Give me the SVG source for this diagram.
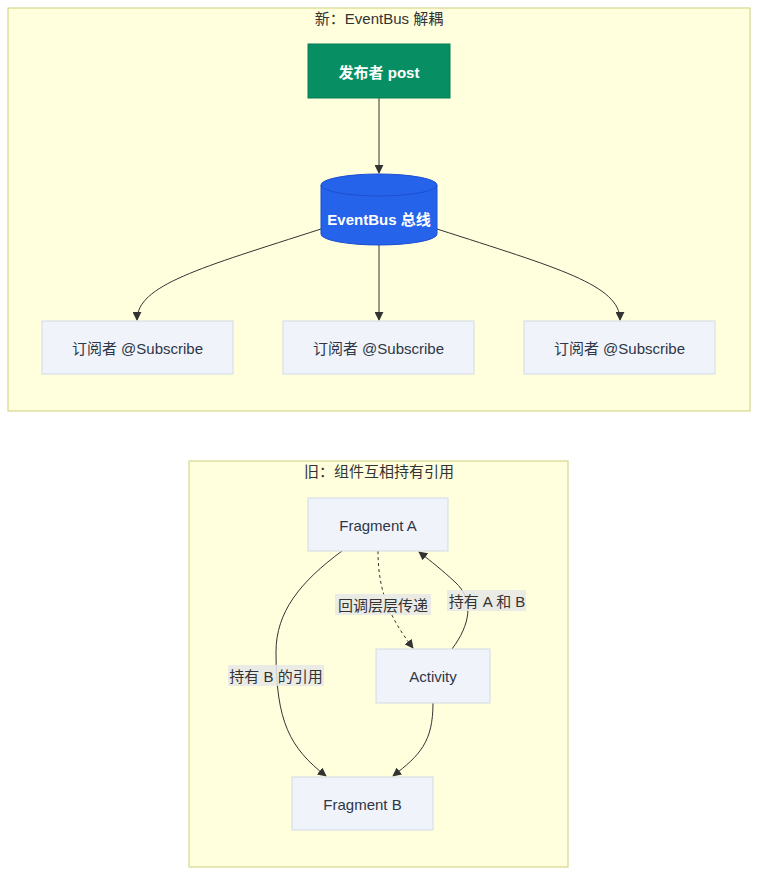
<svg xmlns="http://www.w3.org/2000/svg" width="766" height="886" viewBox="0 0 766 886">
<defs>
<style>
.cluster{fill:#ffffde;stroke:#cfcf7a;stroke-width:1}
.ctitle{font-family:"Liberation Sans","Noto Sans CJK SC",sans-serif;font-size:15px;fill:#333;text-anchor:middle}
.node{fill:#f0f3f9;stroke:#d2dbe8;stroke-width:1}
.ntext{font-family:"Liberation Sans","Noto Sans CJK SC",sans-serif;font-size:15px;fill:#2d3748;text-anchor:middle;dominant-baseline:central}
.wtext{font-family:"Liberation Sans","Noto Sans CJK SC",sans-serif;font-size:15px;fill:#ffffff;font-weight:bold;text-anchor:middle;dominant-baseline:central}
.edge{fill:none;stroke:#333;stroke-width:1}
.dash{stroke-dasharray:3,3}
.lblbg{fill:#e8e8e8;opacity:0.85}
.ltext{font-family:"Liberation Sans","Noto Sans CJK SC",sans-serif;font-size:15px;fill:#333;text-anchor:middle;dominant-baseline:central}
</style>
<marker id="arr" viewBox="0 0 10 10" refX="9" refY="5" markerWidth="9" markerHeight="9" markerUnits="userSpaceOnUse" orient="auto">
<path d="M0,0 L10,5 L0,10 z" fill="#333"/>
</marker>
</defs>
<rect width="766" height="886" fill="#ffffff"/>

<g id="cluster-new">
<rect class="cluster" x="8" y="8" width="742" height="403"/>
<text class="ctitle" x="379" y="24">新：EventBus 解耦</text>
</g>
<g id="cluster-old">
<rect class="cluster" x="189" y="461" width="379" height="406"/>
<text class="ctitle" x="379" y="477">旧：组件互相持有引用</text>
</g>

<g id="connectors">
<path class="edge" d="M379,98 L379,173" marker-end="url(#arr)"/>
<path class="edge" d="M321,229 C200,268 137,285 137,320" marker-end="url(#arr)"/>
<path class="edge" d="M379,245 L379,320" marker-end="url(#arr)"/>
<path class="edge" d="M437,229 C558,268 620,285 620,320" marker-end="url(#arr)"/>
<path class="edge" d="M342,551 C300,582 276,612 276,652 C276,722 290,748 326,776" marker-end="url(#arr)"/>
<path class="edge dash" d="M378,551 C378,592 390,618 413,648" marker-end="url(#arr)"/>
<path class="edge" d="M452,649 C470,625 475,600 455,582 C442,570 432,562 419,552" marker-end="url(#arr)"/>
<path class="edge" d="M433,703 C433,742 420,755 393,776" marker-end="url(#arr)"/>
</g>

<g id="edge-labels">
<rect class="lblbg" x="228" y="665" width="96" height="21"/>
<text class="ltext" x="276" y="676">持有 B 的引用</text>
<rect class="lblbg" x="335" y="594" width="96" height="21"/>
<text class="ltext" x="383" y="605">回调层层传递</text>
<rect class="lblbg" x="447" y="590" width="79" height="21"/>
<text class="ltext" x="487" y="601">持有 A 和 B</text>
</g>

<g id="publisher">
<rect x="308" y="44" width="142" height="54" fill="#078f63" stroke="#067a55"/>
<text class="wtext" x="379" y="72">发布者 post</text>
</g>
<g id="eventbus">
<path d="M321,185 a58,11 0 0 0 116,0 a58,11 0 0 0 -116,0 l0,49 a58,11 0 0 0 116,0 l0,-49" fill="#2563eb" stroke="#1d4fd0"/>
<text class="wtext" x="379" y="219">EventBus 总线</text>
</g>
<g id="sub1">
<rect class="node" x="42" y="321" width="191" height="53"/>
<text class="ntext" x="137.5" y="348">订阅者 @Subscribe</text>
</g>
<g id="sub2">
<rect class="node" x="283" y="321" width="191" height="53"/>
<text class="ntext" x="378.5" y="348">订阅者 @Subscribe</text>
</g>
<g id="sub3">
<rect class="node" x="524" y="321" width="191" height="53"/>
<text class="ntext" x="619.5" y="348">订阅者 @Subscribe</text>
</g>
<g id="fragmentA">
<rect class="node" x="308" y="498" width="140" height="53"/>
<text class="ntext" x="378" y="525">Fragment A</text>
</g>
<g id="activity">
<rect class="node" x="376" y="649" width="114" height="54"/>
<text class="ntext" x="433" y="676">Activity</text>
</g>
<g id="fragmentB">
<rect class="node" x="292" y="777" width="141" height="53"/>
<text class="ntext" x="362.5" y="804">Fragment B</text>
</g>
</svg>
